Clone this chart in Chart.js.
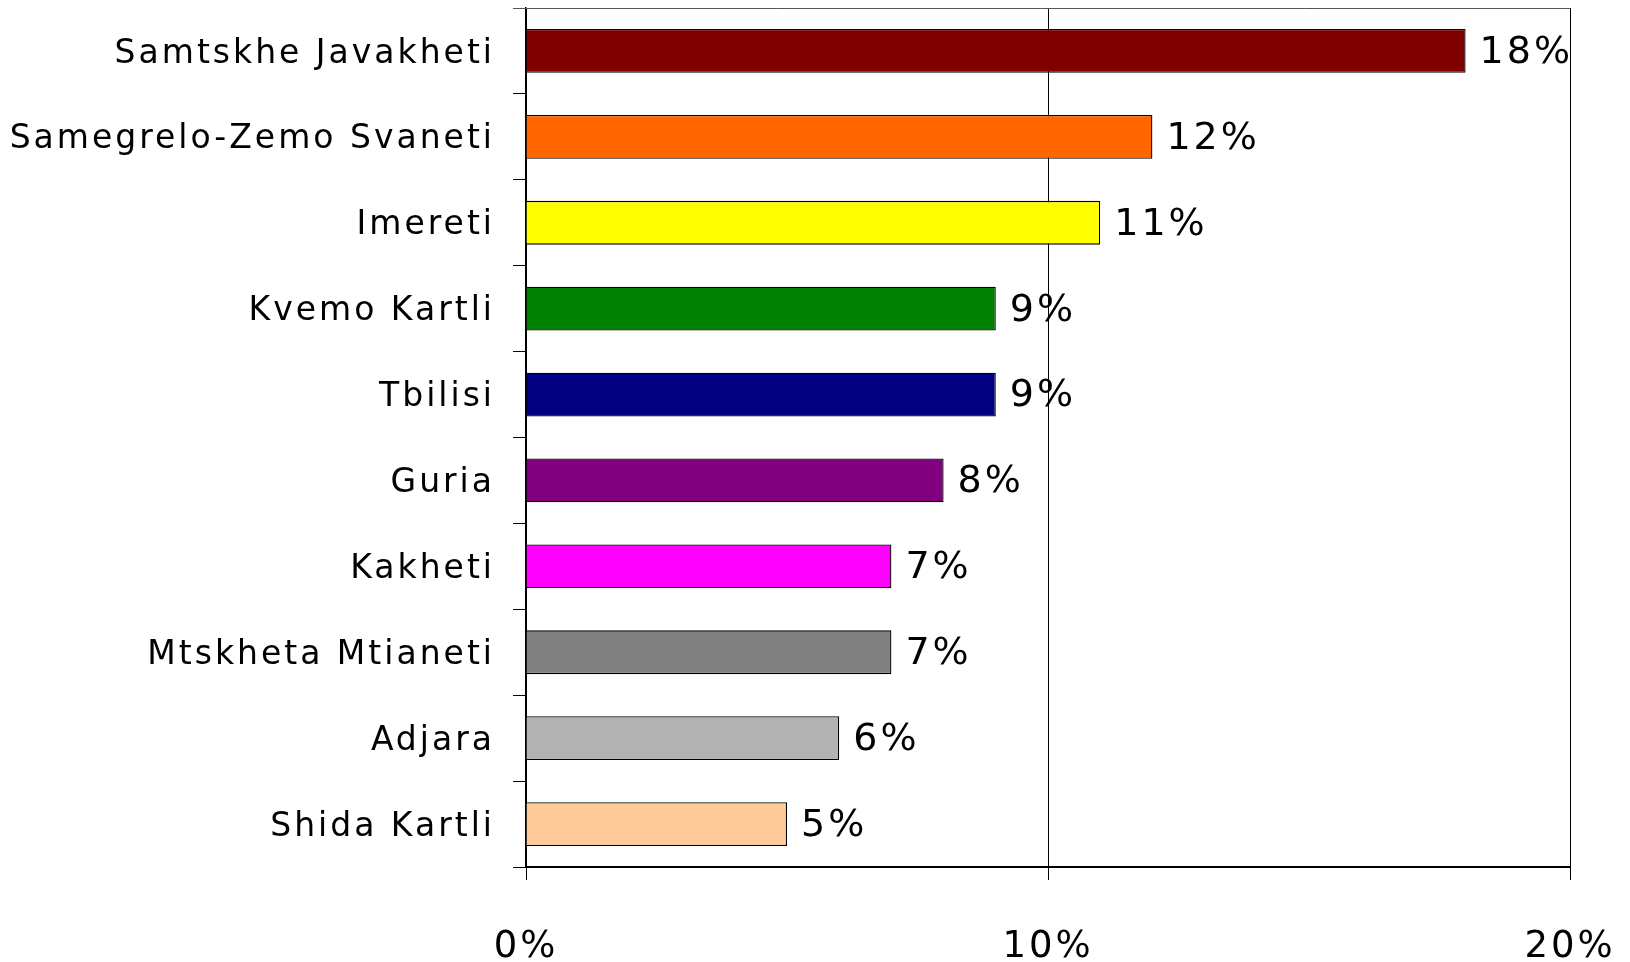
<!DOCTYPE html>
<html>
<head>
<meta charset="utf-8">
<script src="https://cdn.jsdelivr.net/npm/chart.js@4"></script>
<style>
  html, body { margin: 0; padding: 0; background: #fff; }
  canvas { display: block; }
</style>
</head>
<body>
<canvas id="regions" width="1630" height="962"></canvas>
<script>
/* data */
const regions = [
  "Samtskhe Javakheti", "Samegrelo-Zemo Svaneti", "Imereti", "Kvemo Kartli",
  "Tbilisi", "Guria", "Kakheti", "Mtskheta Mtianeti", "Adjara", "Shida Kartli"
];
const shares = [18, 12, 11, 9, 9, 8, 7, 7, 6, 5];
const barColors = [
  "#800000", "#FF6600", "#FFFF00", "#008000", "#000080",
  "#800080", "#FF00FF", "#808080", "#B2B2B2", "#FFCC99"
];
const xTicks = [0, 10, 20];

const FONT = "'DejaVu Sans', Verdana, sans-serif";

/* letter spacing for every text the chart draws */
const spacing = {
  id: "spacing",
  beforeDraw(chart) { chart.ctx.letterSpacing = "3px"; }
};

/* top frame line */
const topLine = {
  id: "topLine",
  afterDraw(chart) {
    const { ctx, chartArea: a } = chart;
    ctx.save();
    ctx.strokeStyle = "#555";
    ctx.lineWidth = 1;
    ctx.beginPath();
    ctx.moveTo(a.left - 13, a.top + 0.5);
    ctx.lineTo(a.right, a.top + 0.5);
    ctx.stroke();
    ctx.restore();
  }
};

/* value labels at bar ends */
const valueLabels = {
  id: "valueLabels",
  afterDatasetsDraw(chart) {
    const ctx = chart.ctx;
    const meta = chart.getDatasetMeta(0);
    ctx.save();
    ctx.font = "38px " + FONT;
    ctx.fillStyle = "#000";
    ctx.textAlign = "left";
    ctx.textBaseline = "middle";
    meta.data.forEach((bar, i) => {
      ctx.fillText(shares[i] + "%", bar.x + 14, bar.y + 2);
    });
    ctx.restore();
  }
};

new Chart(document.getElementById("regions"), {
  type: "bar",
  data: {
    labels: regions,
    datasets: [{
      data: shares,
      backgroundColor: barColors,
      borderColor: "#000",
      borderWidth: 1.3,
      barPercentage: 0.51,
      categoryPercentage: 1
    }]
  },
  options: {
    indexAxis: "y",
    responsive: false,
    animation: false,
    layout: { padding: { top: 8, right: 60, left: 0, bottom: 0 } },
    plugins: { legend: { display: false }, tooltip: { enabled: false } },
    scales: {
      x: {
        min: 0,
        max: 20,
        afterBuildTicks(scale) { scale.ticks = xTicks.map(v => ({ value: v })); },
        afterFit(scale) {
          scale.height = 95;
          scale.paddingLeft = 0;
          scale.paddingRight = 0;
        },
        ticks: {
          callback: v => v + "%",
          color: "#000",
          font: { family: FONT, size: 37 },
          padding: 45,
          maxRotation: 0
        },
        grid: { color: "#000", lineWidth: 1, tickLength: 13, tickColor: "#000" },
        border: { display: true, color: "#000", width: 2 }
      },
      y: {
        afterFit(scale) {
          scale.width = 526;
          scale.paddingTop = 0;
          scale.paddingBottom = 0;
        },
        ticks: {
          color: "#000",
          font: { family: FONT, size: 33 },
          padding: 18,
          labelOffset: 3
        },
        grid: { offset: true, drawOnChartArea: false, tickLength: 13, color: "#000", lineWidth: 1 },
        border: { display: true, color: "#000", width: 1.5 }
      }
    }
  },
  plugins: [spacing, topLine, valueLabels]
});
</script>
</body>
</html>
